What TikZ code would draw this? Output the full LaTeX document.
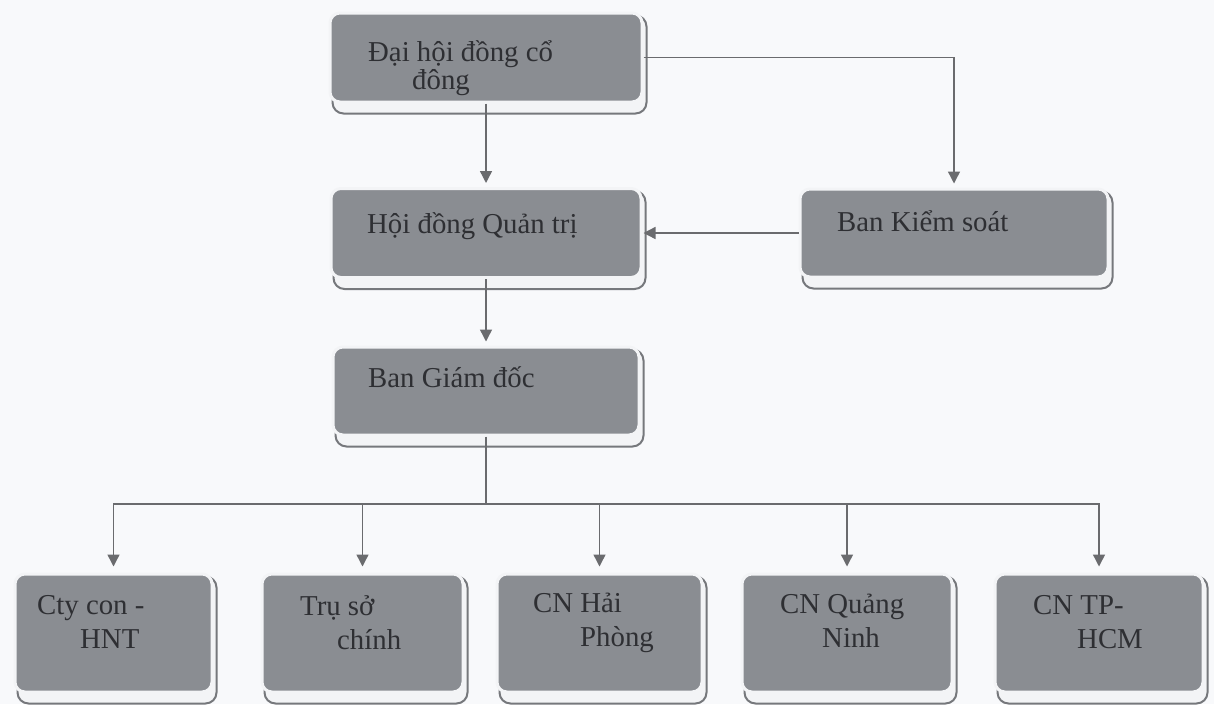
\documentclass[tikz,border=0pt]{standalone}
\usepackage{fontspec}
\setmainfont{Liberation Serif}
\usetikzlibrary{arrows.meta,calc,backgrounds}
\setlength{\lineskiplimit}{-30pt}

\definecolor{boxgrey}{HTML}{8A8D92}
\definecolor{rimwhite}{HTML}{F3F4F6}
\definecolor{shadowgrey}{HTML}{76787C}
\definecolor{linegrey}{HTML}{6A6B6E}
\definecolor{txtgrey}{HTML}{2E2F33}
\definecolor{paper}{HTML}{F8F9FB}

\tikzset{
  orgbox/.style={rectangle, rounded corners=10pt, fill=boxgrey, draw=rimwhite, line width=3pt, inner sep=0pt},
  boxshadow/.style={fill=rimwhite, draw=shadowgrey, line width=2pt, rounded corners=11pt},
  txt/.style={anchor=base west, inner sep=0pt, align=left, text=txtgrey, font=\fontsize{28.8pt}{34pt}\selectfont},
  link/.style={draw=linegrey, line width=1.4pt, -{Triangle[length=12pt,width=12pt]}, shorten >=4pt},
  bus/.style={draw=linegrey, line width=1.4pt}
}

\begin{document}
\begin{tikzpicture}[x=1pt,y=-1pt]
    % boxes
    \node[orgbox, minimum width=312pt, minimum height=89pt] (dhcd) at (486,57.5) {};
    \node[orgbox, minimum width=310pt, minimum height=89pt] (hdqt) at (486,233) {};
    \node[orgbox, minimum width=308pt, minimum height=88pt] (bks) at (954,233) {};
    \node[orgbox, minimum width=306pt, minimum height=88pt] (bgd) at (486,391) {};
    \node[orgbox, minimum width=197pt, minimum height=118pt] (cty) at (113.5,633) {};
    \node[orgbox, minimum width=201pt, minimum height=118pt] (tru) at (362.5,633) {};
    \node[orgbox, minimum width=205pt, minimum height=118pt] (hp) at (599.5,633) {};
    \node[orgbox, minimum width=210pt, minimum height=118pt] (qn) at (847,633) {};
    \node[orgbox, minimum width=208pt, minimum height=118pt] (hcm) at (1099,633) {};

    % texts (base = last line)
    \node[txt, font=\fontsize{28.8pt}{28pt}\selectfont] (dhcd-t) at (368,89) {Đại hội đồng cổ\\\hspace*{44pt}đông};
    \node[txt] (hdqt-t) at (367,233) {Hội đồng Quản trị};
    \node[txt] (bks-t) at (837,231) {Ban Kiểm soát};
    \node[txt] (bgd-t) at (368,387) {Ban Giám đốc};
    \node[txt] (cty-t) at (37,648) {Cty con -\\\hspace*{43pt}HNT};
    \node[txt] (tru-t) at (300,649) {Trụ sở\\\hspace*{37pt}chính};
    \node[txt] (hp-t) at (533,646) {CN Hải\\\hspace*{47pt}Phòng};
    \node[txt] (qn-t) at (780,647) {CN Quảng\\\hspace*{42pt}Ninh};
    \node[txt] (hcm-t) at (1033,648) {CN TP-\\\hspace*{44pt}HCM};

    % connectors
    \coordinate (split) at (486,504);
    \draw[link] (dhcd) -- (hdqt);
    \draw[link] (dhcd.east) -| (bks.north);
    \draw[link, shorten >=1pt] (bks) -- (hdqt);
    \draw[link] (hdqt) -- (bgd);
    \draw[bus] (bgd) -- (split);
    \foreach \b in {cty,tru,hp,qn,hcm}
        \draw[link, shorten >=6pt] (split) -| (\b.north);

    \begin{pgfonlayer}{background}
        \fill[paper] (0,0) rectangle (1214,704);
        \foreach \b in {dhcd,hdqt,bks,bgd,cty,tru,hp,qn,hcm}
            \draw[boxshadow] ($(\b.north west)+(4,4)$) rectangle ($(\b.south east)+(3,10)$);
    \end{pgfonlayer}
    \useasboundingbox (0,0) rectangle (1214,704);
\end{tikzpicture}
\end{document}
